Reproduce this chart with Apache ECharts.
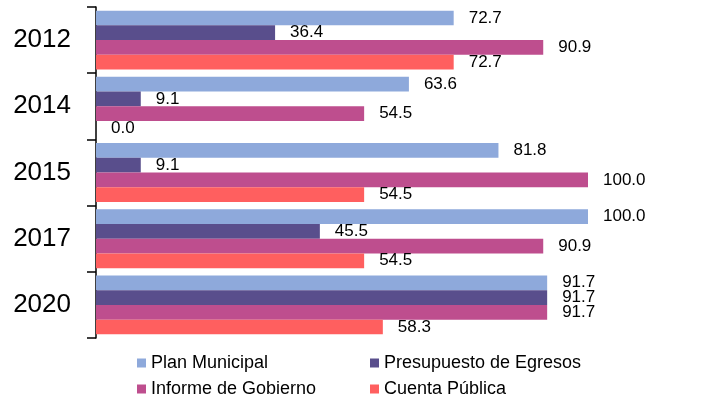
<!DOCTYPE html>
<html><head><meta charset="utf-8">
<script src="https://cdn.jsdelivr.net/npm/echarts@6/dist/echarts.min.js"></script>
<style>html,body{margin:0;padding:0;background:#fff}#c{width:707px;height:404px}</style>
</head><body><div id="c"></div>
<script>
const categories = ['2012', '2014', '2015', '2017', '2020'];
const planMunicipal = [72.7, 63.6, 81.8, 100.0, 91.7];
const presupuesto = [36.4, 9.1, 9.1, 45.5, 91.7];
const informe = [90.9, 54.5, 100.0, 90.9, 91.7];
const cuenta = [72.7, 0.0, 54.5, 54.5, 58.3];
const seriesNames = ['Plan Municipal', 'Presupuesto de Egresos', 'Informe de Gobierno', 'Cuenta Pública'];
const seriesData = [planMunicipal, presupuesto, informe, cuenta];
const colors = ['#8EA9DB', '#594E8C', '#BE4E8E', '#FF5F5F'];
const FONT = 'Arial, "Liberation Sans", sans-serif';

const chart = echarts.init(document.getElementById('c'), null, {renderer: 'canvas'});
const legendPos = [[137, 354], [370, 354], [137, 380], [370, 380]];
chart.setOption({
  animation: false,
  color: colors,
  grid: {left: 96, right: 119, top: 7, bottom: 66, containLabel: false},
  xAxis: {type: 'value', min: 0, max: 100, show: false},
  yAxis: {
    type: 'category', data: categories, inverse: true,
    axisLine: {show: true, lineStyle: {color: '#000', width: 1.5}},
    axisTick: {show: true, length: 9, lineStyle: {color: '#000', width: 1.5}},
    axisLabel: {fontSize: 26, color: '#000', fontFamily: FONT, margin: 25}
  },
  legend: seriesNames.map((n, i) => ({
    data: [n], left: legendPos[i][0], top: legendPos[i][1], padding: 0,
    icon: 'rect', itemWidth: 9, itemHeight: 9,
    textStyle: {fontSize: 18, color: '#000', fontFamily: FONT}
  })),
  series: seriesNames.map((n, i) => ({
    name: n, type: 'bar', data: seriesData[i],
    barGap: '0%', barCategoryGap: '11%',
    label: {
      show: true, position: 'right', distance: 15,
      fontSize: 17, color: '#000', fontFamily: FONT,
      formatter: p => Number(p.value).toFixed(1)
    }
  }))
});
</script></body></html>
